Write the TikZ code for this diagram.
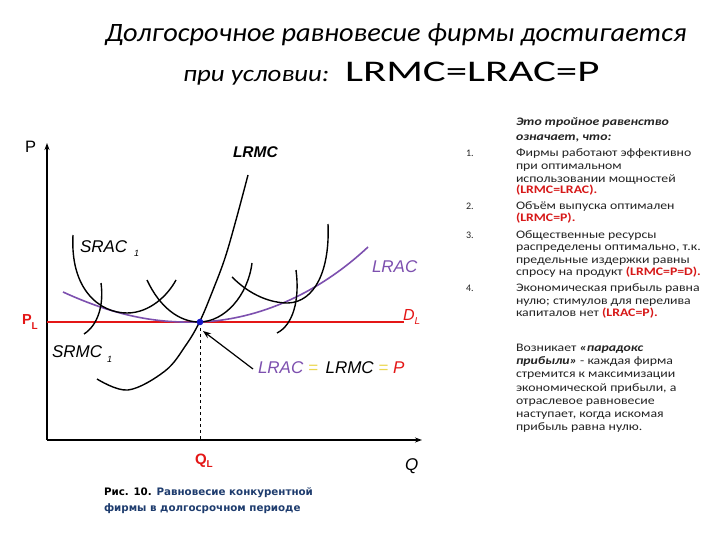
\documentclass[tikz,border=0pt]{standalone}
\usepackage{fontspec}
\setmainfont{Carlito}
\newfontfamily\arialf{Liberation Sans}
\newfontfamily\capfont{DejaVu Sans}
\usetikzlibrary{arrows.meta}
\definecolor{lred}{RGB}{228,22,22}
\definecolor{lpurple}{RGB}{125,80,175}
\definecolor{lyellow}{RGB}{235,215,80}
\definecolor{dotblue}{RGB}{20,20,200}
\definecolor{capblue}{RGB}{30,60,110}
\definecolor{txtgray}{RGB}{35,35,35}
\definecolor{listred}{RGB}{215,25,25}
\newcommand{\hs}[2]{\scalebox{#1}[1]{#2}}
\newcommand{\rb}[1]{\textcolor{listred}{\textbf{#1}}}
\begin{document}
\begin{tikzpicture}[x=1pt,y=-1pt,
  lbl/.style={anchor=base west, inner sep=0pt, outer sep=0pt},
  curve/.style={line width=1.4pt, black},
  axisline/.style={line width=1.3pt, black, -{Stealth[length=7pt,width=5pt]}},
  gl/.style={lbl, font=\arialf\itshape\fontsize{17}{20}\selectfont},
  col/.style={lbl, text=txtgray, font=\fontsize{11.5}{13}\selectfont},
  num/.style={lbl, text=txtgray, font=\fontsize{10}{12}\selectfont},
  captxt/.style={lbl, font=\capfont\bfseries\fontsize{10.3}{12}\selectfont}]
\useasboundingbox[fill=white] (0,0) rectangle (720,540);

% title
\node[lbl] (t1) at (105,42) {\fontsize{26.5}{30}\selectfont\itshape\hs{1.07}{Долгосрочное равновесие фирмы достигается}};
\node[lbl] (t2) at (183,82) {\fontsize{23}{26}\selectfont\itshape\hs{1.17}{при условии:}};
\node[lbl] (t3) at (345,82) {\fontsize{30}{34}\selectfont\hs{1.43}{LRMC=LRAC=P}};

% axes
\coordinate (O) at (47,440);
\coordinate (Ytop) at (47,143);
\coordinate (Xend) at (422,440);
\draw[axisline] (O) -- (Ytop);
\draw[axisline] (O) -- (Xend);
\node[lbl, font=\arialf\fontsize{16.5}{20}\selectfont] (Plab) at (25,153) {P};
\node[gl] (Qlab) at (405,470) {Q};

% price line
\coordinate (PLs) at (47,322);
\coordinate (PLe) at (404,322);
\coordinate (E) at (200,322);
\coordinate (Eb) at (200,440);
\draw[lred, line width=1.8pt] (PLs) -- (PLe);
\draw[black, dashed, line width=0.8pt] (E) -- (Eb);

% LRAC
\draw[lpurple, line width=1.6pt] (63,292) .. controls (120,318) and (160,323) .. (199,322) .. controls (260,320) and (320,292) .. (368,247);

% SRAC curves
\draw[curve] (73,235) .. controls (70,290) and (100,313) .. (127,313) .. controls (150,313) and (168,295) .. (176,280);
\draw[curve] (147,280) .. controls (160,308) and (180,322) .. (199,322) .. controls (225,322) and (248,295) .. (252,263);
\draw[curve] (232,277) .. controls (250,295) and (270,303) .. (288,303) .. controls (315,302) and (330,270) .. (328,224);
% SRMC curves
\draw[curve] (101,283) .. controls (104,305) and (98,325) .. (84,334);
\draw[curve] (296,270) .. controls (300,300) and (293,325) .. (277,333);
% LRMC
\draw[curve] plot[smooth, tension=0.6] coordinates {(97,379) (128,390) (165,371) (186,345) (200,321) (213,290) (225,258) (236,220) (248,175)};

% equilibrium point
\fill[dotblue] (E) circle (3.3pt);

% labels on graph
\node[lbl, font=\arialf\bfseries\itshape\fontsize{15.5}{18}\selectfont] (lrmc) at (233,158) {LRMC};
\node[gl] (srac) at (80,252) {SRAC};
\node[lbl, font=\arialf\itshape\fontsize{9}{10}\selectfont] (srac1) at (134,256) {1};
\node[gl, text=lpurple] (lrac) at (372,272) {LRAC};
\node[gl] (srmc) at (52,357) {SRMC};
\node[lbl, font=\arialf\itshape\fontsize{9}{10}\selectfont] (srmc1) at (107,362) {1};
\node[gl] (eqlab) at (258,373) {\textcolor{lpurple}{LRAC} \textcolor{lyellow}{=}\, LRMC \textcolor{lyellow}{=} \textcolor{lred}{P}};
\coordinate (arrtip) at (203,331);
\draw[black, line width=1.2pt, -{Stealth[length=8pt,width=6pt]}] (253,369) -- (arrtip);
\node[lbl, text=lred, font=\arialf\itshape\fontsize{16}{18}\selectfont] (DL) at (403,320) {D\raisebox{-4pt}{\fontsize{10}{11}\selectfont L}};
\node[lbl, text=lred, font=\arialf\bfseries\fontsize{14.5}{16}\selectfont] (PL) at (22,324) {P\raisebox{-5pt}{\fontsize{10}{11}\selectfont L}};
\node[lbl, text=lred, font=\arialf\bfseries\fontsize{15}{16}\selectfont] (QL) at (195,464) {Q\raisebox{-3pt}{\fontsize{10}{11}\selectfont L}};

% caption
\node[captxt] (cap1) at (104,495) {Рис. 10. \textcolor{capblue}{Равновесие конкурентной}};
\node[captxt, text=capblue] (cap2) at (104,511) {фирмы в долгосрочном периоде};

% right column
\node[col, font=\bfseries\itshape\fontsize{11.5}{13}\selectfont] (h1) at (516,126) {\hs{1.2}{Это тройное равенство}};
\node[col, font=\bfseries\itshape\fontsize{11.5}{13}\selectfont] (h2) at (516,141) {\hs{1.2}{означает, что:}};

\node[num] (n1) at (466,157) {1.};
\node[col] (a1) at (516,157) {\hs{1.2}{Фирмы работают эффективно}};
\node[col] (a2) at (516,170) {\hs{1.2}{при оптимальном}};
\node[col] (a3) at (516,183) {\hs{1.2}{использовании мощностей}};
\node[col] (a4) at (516,194) {\hs{1.2}{\rb{(LRMC=LRAC).}}};
\node[num] (n2) at (466,210) {2.};
\node[col] (b1) at (516,210) {\hs{1.2}{Объём выпуска оптимален}};
\node[col] (b2) at (516,222) {\hs{1.2}{\rb{(LRMC=P).}}};
\node[num] (n3) at (466,238) {3.};
\node[col] (c1) at (516,238) {\hs{1.2}{Общественные ресурсы}};
\node[col] (c2) at (516,251) {\hs{1.2}{распределены оптимально, т.к.}};
\node[col] (c3) at (516,263) {\hs{1.2}{предельные издержки равны}};
\node[col] (c4) at (516,275) {\hs{1.2}{спросу на продукт \rb{(LRMC=P=D).}}};
\node[num] (n4) at (466,291) {4.};
\node[col] (d1) at (516,291) {\hs{1.2}{Экономическая прибыль равна}};
\node[col] (d2) at (516,304) {\hs{1.2}{нулю; стимулов для перелива}};
\node[col] (d3) at (516,316) {\hs{1.2}{капиталов нет \rb{(LRAC=P).}}};

\node[col] (p1) at (516,351) {\hs{1.2}{Возникает \textbf{\textit{«парадокс}}}};
\node[col] (p2) at (516,364) {\hs{1.2}{\textbf{\textit{прибыли»}} - каждая фирма}};
\node[col] (p3) at (516,377) {\hs{1.2}{стремится к максимизации}};
\node[col] (p4) at (516,391) {\hs{1.2}{экономической прибыли, а}};
\node[col] (p5) at (516,404) {\hs{1.2}{отраслевое равновесие}};
\node[col] (p6) at (516,417) {\hs{1.2}{наступает, когда искомая}};
\node[col] (p7) at (516,430) {\hs{1.2}{прибыль равна нулю.}};
\end{tikzpicture}
\end{document}
